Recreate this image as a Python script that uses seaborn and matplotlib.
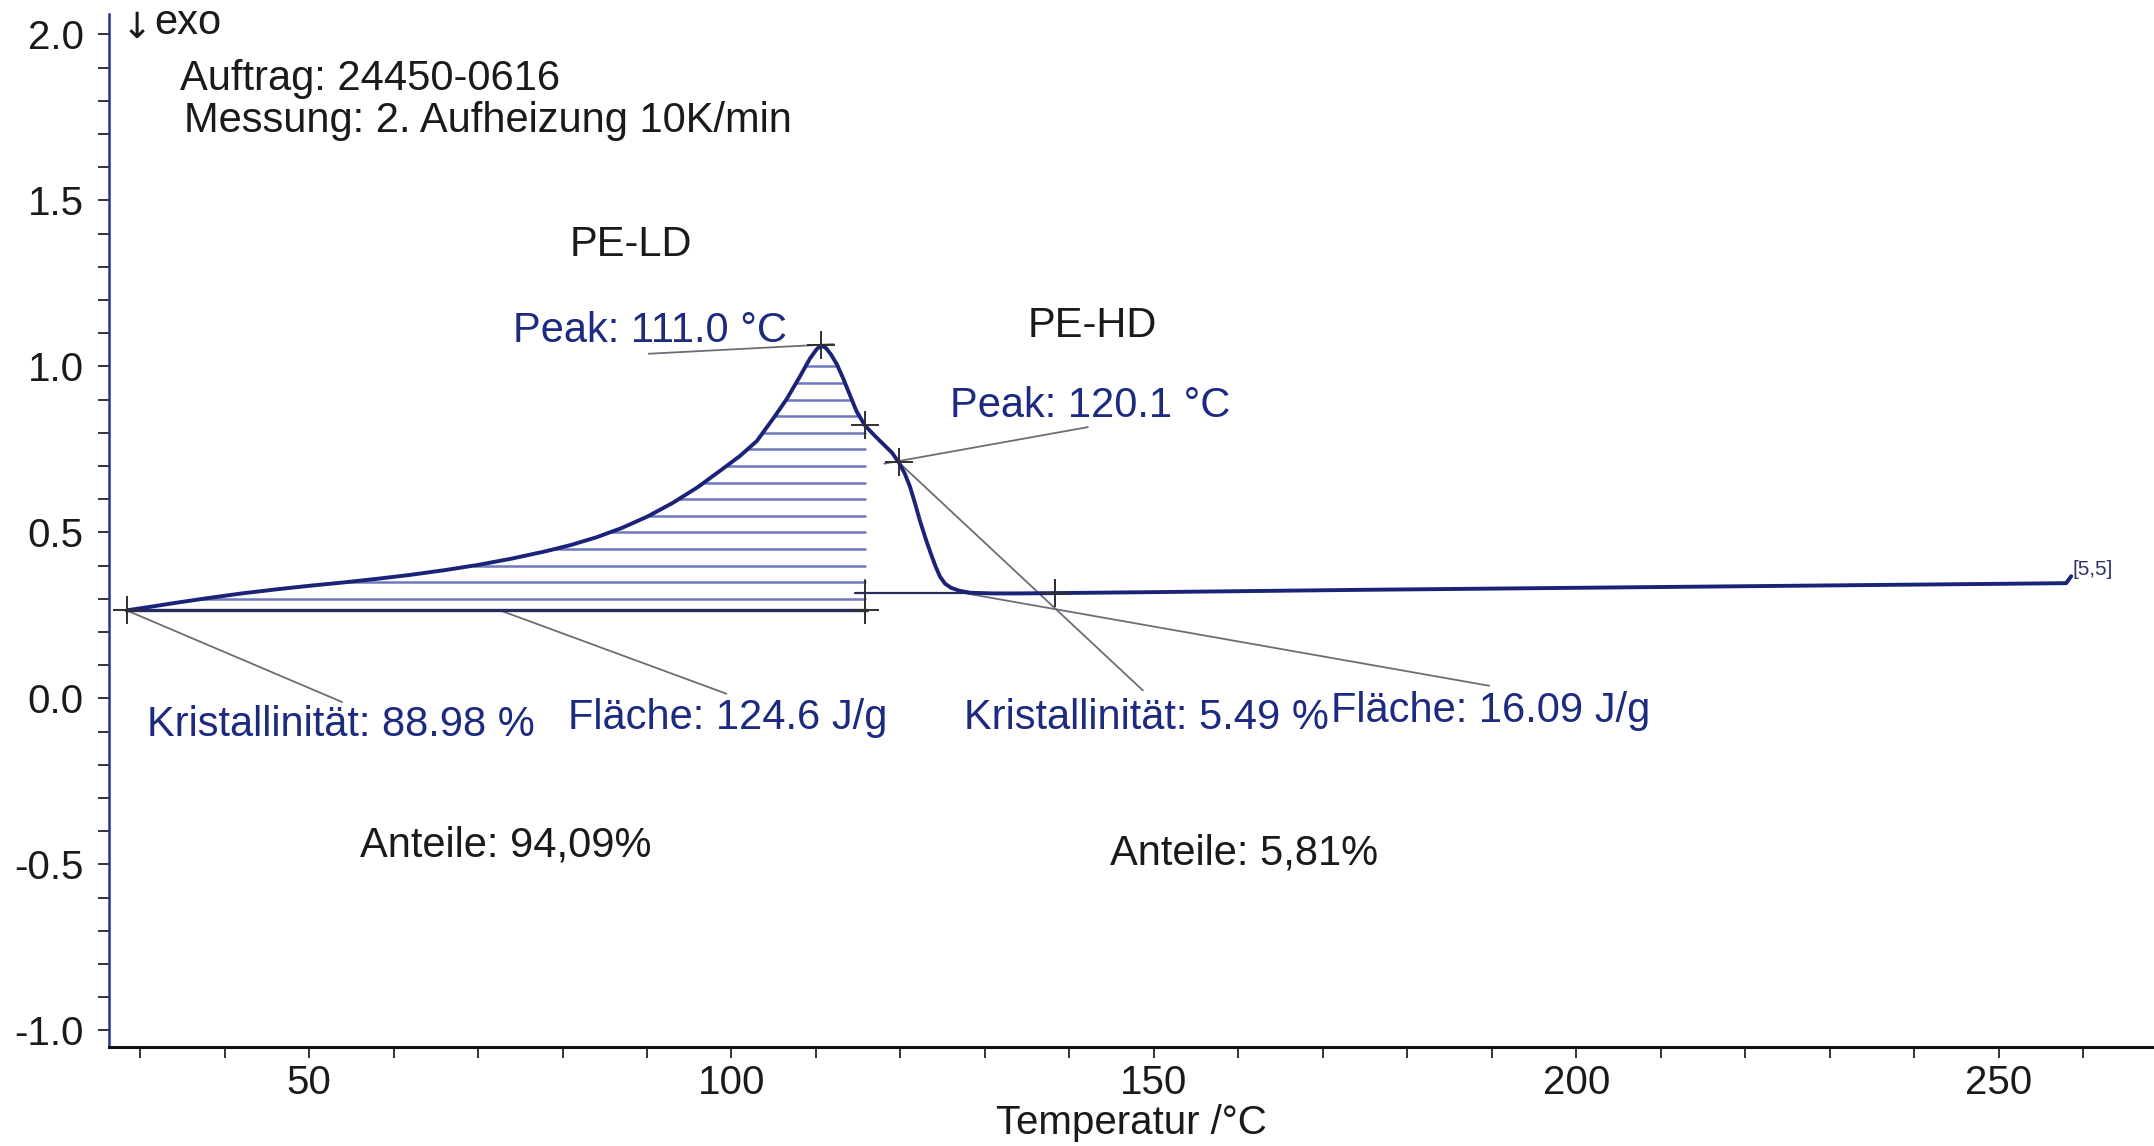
import numpy as np
import matplotlib
matplotlib.use("Agg")
import matplotlib.pyplot as plt
from matplotlib.ticker import MultipleLocator, FormatStrFormatter
import seaborn as sns
import pandas as pd

# ---- data ----
temperature = [28.4, 31.0, 34.0, 38.0, 42.0, 46.0, 50.0, 54.0, 58.0, 62.0, 66.0, 70.0,
               74.0, 78.0, 81.0, 84.0, 87.0, 90.0, 93.0, 96.0, 99.0, 101.0, 103.0,
               105.0, 106.5, 108.0, 109.3, 110.1, 110.6, 111.2, 111.8, 112.5, 113.2,
               114.0, 114.8, 115.8, 117.0, 118.0, 119.0, 119.8, 120.5, 121.1, 121.7,
               122.3, 123.0, 123.6, 124.2, 124.7, 125.3, 126.0, 127.0, 128.3, 131.0,
               134.0, 150.0, 175.0, 200.0, 225.0, 250.0, 258.0, 258.6]
heat_flow = [0.265, 0.275, 0.287, 0.302, 0.316, 0.328, 0.339, 0.349, 0.360, 0.372, 0.386, 0.402,
             0.421, 0.443, 0.462, 0.485, 0.513, 0.547, 0.588, 0.636, 0.692, 0.730, 0.775,
             0.845, 0.900, 0.965, 1.024, 1.052, 1.063, 1.055, 1.035, 1.005, 0.965,
             0.915, 0.865, 0.822, 0.790, 0.765, 0.740, 0.711, 0.678, 0.640, 0.590,
             0.536, 0.480, 0.436, 0.395, 0.366, 0.345, 0.333, 0.324, 0.318, 0.316,
             0.316, 0.320, 0.327, 0.333, 0.339, 0.345, 0.347, 0.368]

hatch_levels = [0.30, 0.35, 0.40, 0.45, 0.50, 0.55, 0.60, 0.65, 0.70, 0.75,
                0.80, 0.85, 0.90, 0.95, 1.00]

ld_baseline_T = [28.4, 116.0]
ld_baseline_y = [0.265, 0.265]
hd_baseline_T = [114.6, 138.3]
hd_baseline_y = [0.317, 0.317]
ld_limit_T = 115.8

marker_T = [28.4, 110.6, 115.8, 119.8, 115.8, 138.3]
marker_y = [0.265, 1.063, 0.822, 0.711, 0.265, 0.317]

# leader lines: (T0, y0, T1, y1)
leaders = [
    (90.2, 1.038, 112.1, 1.067),   # Peak 111.0
    (118.1, 0.707, 142.2, 0.817),  # Peak 120.1
    (119.8, 0.711, 148.7, 0.024),  # Kristallinitaet 5.49
    (126.9, 0.320, 189.7, 0.038),  # Flaeche 16.09
    (72.5, 0.266, 99.4, 0.014),    # Flaeche 124.6
    (28.4, 0.265, 53.9, -0.011),   # Kristallinitaet 88.98
]

blue_texts = [
    (74.1, 1.105, "Peak: 111.0 °C"),
    (125.9, 0.881, "Peak: 120.1 °C"),
    (30.8, -0.079, "Kristallinität: 88.98 %"),
    (80.6, -0.058, "Fläche: 124.6 J/g"),
    (127.5, -0.058, "Kristallinität: 5.49 %"),
    (171.0, -0.037, "Fläche: 16.09 J/g"),
]
black_texts = [
    (80.9, 1.365, "PE-LD"),
    (135.0, 1.121, "PE-HD"),
    (56.0, -0.443, "Anteile: 94,09%"),
    (144.8, -0.467, "Anteile: 5,81%"),
    (34.7, 1.866, "Auftrag: 24450-0616"),
    (35.2, 1.738, "Messung: 2. Aufheizung 10K/min"),
]

# ---- styling ----
sns.set_theme(style="white")
plt.rcParams["font.family"] = ["Liberation Sans", "DejaVu Sans"]
plt.rcParams["axes.unicode_minus"] = False

NAVY = "#1a2378"
TEXT_BLUE = "#1c2a80"
HATCH = "#6f79bd"
GRAY = "#6c6c76"
FS = 30

fig = plt.figure(figsize=(21.54, 11.46), dpi=100)
ax = fig.add_axes([0.0504, 0.0864, 0.9496, 0.9016])

df = pd.DataFrame({"T": temperature, "HF": heat_flow})

# hatch lines between curve and PE-LD integration limit
T_arr = np.array(temperature)
y_arr = np.array(heat_flow)
ipk = int(np.argmax(y_arr))
rise_T, rise_y = T_arr[: ipk + 1], y_arr[: ipk + 1]
fall_T, fall_y = T_arr[ipk:], y_arr[ipk:]
for lv in hatch_levels:
    t0 = np.interp(lv, rise_y, rise_T)
    t1 = np.interp(lv, fall_y[::-1], fall_T[::-1])
    t1 = min(t1, ld_limit_T)
    ax.plot([t0, t1], [lv, lv], color=HATCH, lw=1.8, zorder=2)

# baselines
ax.plot(ld_baseline_T, ld_baseline_y, color="#262c5c", lw=2.4, zorder=3)
ax.plot(hd_baseline_T, hd_baseline_y, color="#262c5c", lw=1.6, zorder=3)
ax.plot([ld_limit_T, ld_limit_T], [0.236, 0.356], color="#303030", lw=1.4, zorder=3)
ax.plot([138.3, 138.3], [0.285, 0.356], color="#303030", lw=1.4, zorder=3)

# leader lines
for t0, y0, t1, y1 in leaders:
    ax.plot([t0, t1], [y0, y1], color=GRAY, lw=1.3, zorder=2)

# main curve
sns.lineplot(data=df, x="T", y="HF", sort=False, color=NAVY, lw=2.8, ax=ax, zorder=4)

# cross markers
ax.plot(marker_T, marker_y, linestyle="none", marker="+", markersize=20,
        markeredgewidth=1.4, color="#303030", zorder=5)

# texts
for t, y, s in blue_texts:
    ax.text(t, y, s, color=TEXT_BLUE, fontsize=FS, va="center", ha="left")
for t, y, s in black_texts:
    ax.text(t, y, s, color="#1a1a1a", fontsize=FS, va="center", ha="left")
ax.text(29.6, 2.02, "↓", color="#1a1a1a", fontsize=26, va="center", ha="center",
        family=["DejaVu Sans"])
ax.text(31.7, 2.035, "exo", color="#1a1a1a", fontsize=30, va="center", ha="left")
ax.text(258.8, 0.389, "[5,5]", color="#333366", fontsize=15, va="center", ha="left")

# axes
ax.set_xlim(26.26, 268.4)
ax.set_ylim(-1.05, 2.062)
ax.xaxis.set_major_locator(MultipleLocator(50))
ax.xaxis.set_minor_locator(MultipleLocator(10))
ax.yaxis.set_major_locator(MultipleLocator(0.5))
ax.yaxis.set_minor_locator(MultipleLocator(0.1))
ax.yaxis.set_major_formatter(FormatStrFormatter("%.1f"))
ax.tick_params(axis="both", which="both", direction="out", length=8, width=1.4,
               color="#333333", labelsize=29, labelcolor="#1a1a1a")
ax.tick_params(axis="both", which="minor", labelleft=False, labelbottom=False)
ax.tick_params(axis="y", which="major", pad=10)
ax.tick_params(axis="x", which="major", pad=4)
ax.tick_params(left=True, bottom=True, which="both")

for side in ["top", "right"]:
    ax.spines[side].set_visible(False)
ax.spines["left"].set_color("#2233a0")
ax.spines["left"].set_linewidth(1.8)
ax.spines["bottom"].set_color("#111111")
ax.spines["bottom"].set_linewidth(2.2)

ax.set_xlabel("Temperatur /°C", fontsize=29, color="#1a1a1a", labelpad=2)
ax.set_ylabel("")
ax.grid(False)

fig.savefig("out.png", dpi=100)
